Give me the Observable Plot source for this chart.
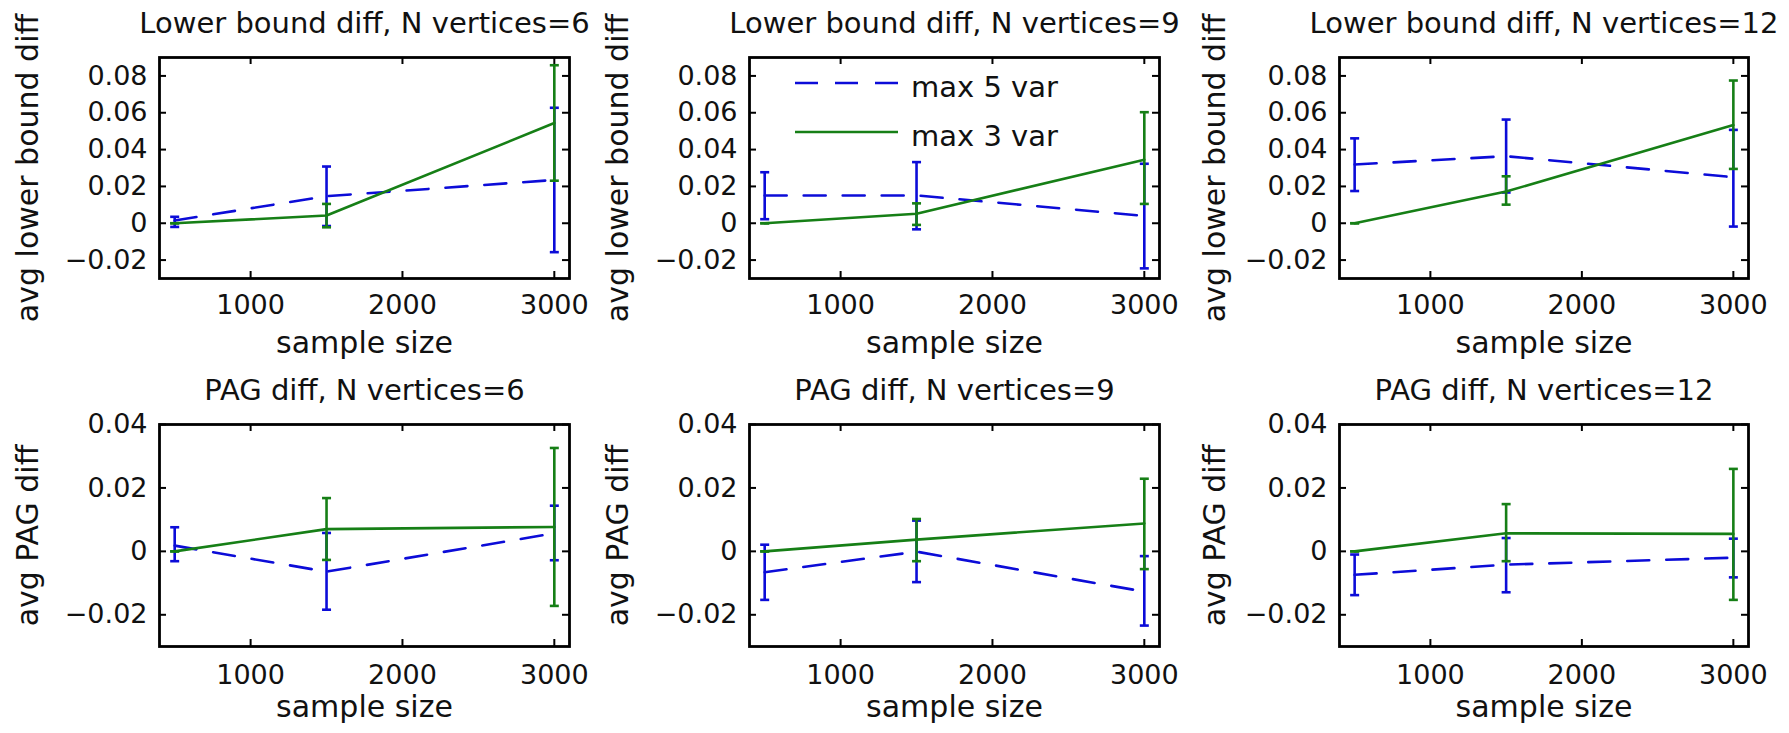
<!DOCTYPE html>
<html><head><meta charset="utf-8">
<script src="https://cdn.jsdelivr.net/npm/d3@7"></script>
<script src="https://cdn.jsdelivr.net/npm/@observablehq/plot@0.6"></script>
<style>
html,body{margin:0;padding:0;background:#fff;}
#chart{position:relative;width:1789px;height:733px;overflow:hidden;font-family:"DejaVu Sans",sans-serif;}
#chart > svg{position:absolute;}
</style></head><body><div id="chart"></div>
<script>
// ---------- data ----------
const sampleSizes = [500, 1500, 3000];
const seriesNames = ["max 5 var", "max 3 var"];
const xLabel = "sample size";
const yLabelLB = "avg lower bound diff";
const yLabelPAG = "avg PAG diff";
const titles = [
  "Lower bound diff, N vertices=6", "Lower bound diff, N vertices=9", "Lower bound diff, N vertices=12",
  "PAG diff, N vertices=6", "PAG diff, N vertices=9", "PAG diff, N vertices=12"
];
const xTicks = [1000, 2000, 3000];
const xTickLabels = ["1000", "2000", "3000"];
const yTicksLB = [-0.02, 0, 0.02, 0.04, 0.06, 0.08];
const yTickLabelsLB = ["\u22120.02", "0", "0.02", "0.04", "0.06", "0.08"];
const yTicksPAG = [-0.02, 0, 0.02, 0.04];
const yTickLabelsPAG = ["\u22120.02", "0", "0.02", "0.04"];
const xDomain = [400, 3100];
const yDomainLB = [-0.03, 0.09];
const yDomainPAG = [-0.03, 0.04];

// Lower bound diff, N=6
const lb6Max5Mean = [0.0015, 0.0147, 0.0235];
const lb6Max5Low  = [-0.0020, -0.0015, -0.0157];
const lb6Max5High = [0.0035, 0.0308, 0.0627];
const lb6Max3Mean = [0.0000, 0.0042, 0.0544];
const lb6Max3Low  = [0.0000, -0.0022, 0.0231];
const lb6Max3High = [0.0000, 0.0105, 0.0858];
// Lower bound diff, N=9
const lb9Max5Mean = [0.0151, 0.0151, 0.0040];
const lb9Max5Low  = [0.0022, -0.0033, -0.0245];
const lb9Max5High = [0.0277, 0.0332, 0.0323];
const lb9Max3Mean = [0.0000, 0.0052, 0.0345];
const lb9Max3Low  = [0.0000, -0.0009, 0.0105];
const lb9Max3High = [0.0000, 0.0108, 0.0603];
// Lower bound diff, N=12
const lb12Max5Mean = [0.0319, 0.0364, 0.0250];
const lb12Max5Low  = [0.0175, 0.0167, -0.0018];
const lb12Max5High = [0.0461, 0.0563, 0.0507];
const lb12Max3Mean = [0.0000, 0.0172, 0.0533];
const lb12Max3Low  = [0.0000, 0.0101, 0.0295];
const lb12Max3High = [0.0000, 0.0255, 0.0775];
// PAG diff, N=6
const pag6Max5Mean = [0.0018, -0.0064, 0.0057];
const pag6Max5Low  = [-0.0031, -0.0184, -0.0028];
const pag6Max5High = [0.0076, 0.0058, 0.0144];
const pag6Max3Mean = [0.0000, 0.0070, 0.0077];
const pag6Max3Low  = [0.0000, -0.0027, -0.0172];
const pag6Max3High = [0.0000, 0.0168, 0.0326];
// PAG diff, N=9
const pag9Max5Mean = [-0.0066, -0.0001, -0.0127];
const pag9Max5Low  = [-0.0153, -0.0097, -0.0234];
const pag9Max5High = [0.0021, 0.0097, -0.0015];
const pag9Max3Mean = [0.0000, 0.0037, 0.0088];
const pag9Max3Low  = [0.0000, -0.0031, -0.0056];
const pag9Max3High = [0.0000, 0.0102, 0.0229];
// PAG diff, N=12
const pag12Max5Mean = [-0.0074, -0.0042, -0.0020];
const pag12Max5Low  = [-0.0138, -0.0129, -0.0082];
const pag12Max5High = [-0.0010, 0.0042, 0.0040];
const pag12Max3Mean = [0.0000, 0.0057, 0.0055];
const pag12Max3Low  = [0.0000, -0.0031, -0.0153];
const pag12Max3High = [0.0000, 0.0149, 0.0260];

// ---------- styling ----------
const BLUE = "#0c0cd8";
const GREEN = "#167f16";
const FONT = "DejaVu Sans";
const DASH = "22,17";

const rows = [
  {top: 0, height: 363, marginTop: 57, marginBottom: 85, yDomain: yDomainLB, yTicks: yTicksLB, yTickLabels: yTickLabelsLB, yLabel: yLabelLB, xTickDy: 27, xLabelDy: 65},
  {top: 363, height: 370, marginTop: 61, marginBottom: 87, yDomain: yDomainPAG, yTicks: yTicksPAG, yTickLabels: yTickLabelsPAG, yLabel: yLabelPAG, xTickDy: 29, xLabelDy: 61}
];
const cols = [
  {left: 0, width: 590, marginLeft: 159, marginRight: 21, yLabelDx: -131},
  {left: 590, width: 600, marginLeft: 159, marginRight: 31, yLabelDx: -131},
  {left: 1190, width: 599, marginLeft: 149, marginRight: 41, yLabelDx: -124}
];

const panelSeries = [
  [[lb6Max5Mean, lb6Max5Low, lb6Max5High], [lb6Max3Mean, lb6Max3Low, lb6Max3High]],
  [[lb9Max5Mean, lb9Max5Low, lb9Max5High], [lb9Max3Mean, lb9Max3Low, lb9Max3High]],
  [[lb12Max5Mean, lb12Max5Low, lb12Max5High], [lb12Max3Mean, lb12Max3Low, lb12Max3High]],
  [[pag6Max5Mean, pag6Max5Low, pag6Max5High], [pag6Max3Mean, pag6Max3Low, pag6Max3High]],
  [[pag9Max5Mean, pag9Max5Low, pag9Max5High], [pag9Max3Mean, pag9Max3Low, pag9Max3High]],
  [[pag12Max5Mean, pag12Max5Low, pag12Max5High], [pag12Max3Mean, pag12Max3Low, pag12Max3High]]
];

const capSymbol = {
  draw(context, size) {
    const w = Math.sqrt(size / Math.PI);
    context.moveTo(-w, 0);
    context.lineTo(w, 0);
  }
};

function table(mean, low, high) {
  return sampleSizes.map((x, i) => ({x, y: mean[i], lo: low[i], hi: high[i]}));
}

function seriesMarks(rowsData, color, dashed) {
  return [
    Plot.line(rowsData, {x: "x", y: "y", stroke: color, strokeWidth: 2.6, strokeDasharray: dashed ? DASH : null}),
    Plot.ruleX(rowsData, {x: "x", y1: "lo", y2: "hi", stroke: color, strokeWidth: 2.6}),
    Plot.dot(rowsData, {x: "x", y: "lo", symbol: capSymbol, r: 4.5, stroke: color, strokeWidth: 2.6, fill: "none"}),
    Plot.dot(rowsData, {x: "x", y: "hi", symbol: capSymbol, r: 4.5, stroke: color, strokeWidth: 2.6, fill: "none"})
  ];
}

const chart = document.getElementById("chart");
const TICK = 7;

titles.forEach((title, p) => {
  const R = rows[Math.floor(p / 3)];
  const C = cols[p % 3];
  const innerW = C.width - C.marginLeft - C.marginRight;
  const innerH = R.height - R.marginTop - R.marginBottom;
  const [s5, s3] = panelSeries[p];
  const d5 = table(...s5);
  const d3t = table(...s3);
  const svg = Plot.plot({
    width: C.width,
    height: R.height,
    marginLeft: C.marginLeft,
    marginRight: C.marginRight,
    marginTop: R.marginTop,
    marginBottom: R.marginBottom,
    style: {fontFamily: FONT, background: "transparent", overflow: "visible"},
    x: {domain: xDomain, axis: null},
    y: {domain: R.yDomain, axis: null},
    marks: [
      // inward ticks on all four sides
      Plot.tickX(xTicks, {x: d => d, insetTop: innerH - TICK, stroke: "black", strokeWidth: 2}),
      Plot.tickX(xTicks, {x: d => d, insetBottom: innerH - TICK, stroke: "black", strokeWidth: 2}),
      Plot.tickY(R.yTicks, {y: d => d, insetRight: innerW - TICK, stroke: "black", strokeWidth: 2}),
      Plot.tickY(R.yTicks, {y: d => d, insetLeft: innerW - TICK, stroke: "black", strokeWidth: 2}),
      ...seriesMarks(d5, BLUE, true),
      ...seriesMarks(d3t, GREEN, false),
      Plot.frame({stroke: "black", strokeWidth: 2.8}),
      // tick labels
      Plot.text(xTicks, {x: d => d, text: (d, i) => xTickLabels[i], frameAnchor: "bottom", dy: R.xTickDy, lineAnchor: "middle", fontSize: 27, fill: "#111"}),
      Plot.text(R.yTicks, {y: d => d, text: (d, i) => R.yTickLabels[i], frameAnchor: "left", dx: -12, textAnchor: "end", lineAnchor: "middle", fontSize: 27, fill: "#111"}),
      // titles and axis labels
      Plot.text([title], {frameAnchor: "top", dy: -34, lineAnchor: "middle", textAnchor: "middle", fontSize: 29, fill: "#111"}),
      Plot.text([xLabel], {frameAnchor: "bottom", dy: R.xLabelDy, lineAnchor: "middle", textAnchor: "middle", fontSize: 30, fill: "#111"}),
      Plot.text([R.yLabel], {frameAnchor: "left", dx: C.yLabelDx, rotate: -90, lineAnchor: "middle", textAnchor: "middle", fontSize: 30, fill: "#111"})
    ]
  });
  svg.style.left = C.left + "px";
  svg.style.top = R.top + "px";
  chart.appendChild(svg);
});

// legend (top-middle panel)
const legend = d3.create("svg")
  .attr("width", 320).attr("height", 110)
  .style("left", "780px").style("top", "55px")
  .style("font-family", FONT);
const legendItems = [
  {name: seriesNames[0], color: BLUE, dash: "23,17", y: 28},
  {name: seriesNames[1], color: GREEN, dash: null, y: 77}
];
legendItems.forEach(it => {
  legend.append("line").attr("x1", 15).attr("x2", 118).attr("y1", it.y).attr("y2", it.y)
    .attr("stroke", it.color).attr("stroke-width", 2.6).attr("stroke-dasharray", it.dash);
  legend.append("text").attr("x", 131).attr("y", it.y + 14)
    .attr("font-size", 29).attr("fill", "#111").text(it.name);
});
chart.appendChild(legend.node());
</script></body></html>
